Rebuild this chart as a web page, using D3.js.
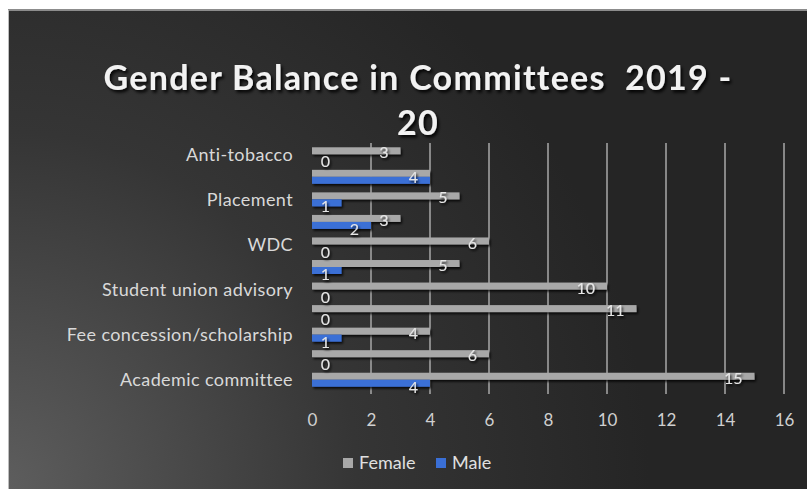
<html lang="en">
  <head>
    <script src="https://d3js.org/d3.v7.min.js"></script>
    <style>
      body { margin: 0; background: #fff; }
      text { font-family: Lato, "Open Sans", sans-serif; }
    </style>
  </head>
  <body>
    <svg id="chart" width="807" height="489"></svg>
    <script>
      // bottom to top, only every other category is labelled in the original
      const categories = ['Academic committee', '', 'Fee concession/scholarship', '', 'Student union advisory', '', 'WDC', '', 'Placement', '', 'Anti-tobacco']
      const female = [15, 6, 4, 11, 10, 5, 6, 3, 5, 4, 3]
      const male = [4, 0, 1, 0, 0, 1, 0, 2, 1, 4, 0]
      const series = ['Female', 'Male']
      const colors = { Female: '#a8a8a8', Male: '#3a6fd6' }
      const xTicks = [0, 2, 4, 6, 8, 10, 12, 14, 16]

      const svg = d3.select('#chart')
      const defs = svg.append('defs')

      const bg = defs.append('radialGradient').attr('id', 'bg')
        .attr('gradientUnits', 'userSpaceOnUse')
        .attr('cx', 0).attr('cy', 489).attr('r', 650)
      bg.append('stop').attr('offset', 0).attr('stop-color', '#5e5e5e')
      bg.append('stop').attr('offset', 0.55).attr('stop-color', '#353535')
      bg.append('stop').attr('offset', 1).attr('stop-color', '#252525')

      const shadow = defs.append('filter').attr('id', 'shadow')
        .attr('x', '-10%').attr('y', '-40%').attr('width', '130%').attr('height', '200%')
      shadow.append('feDropShadow').attr('dx', 1.5).attr('dy', 2).attr('stdDeviation', 1.2)
        .attr('flood-color', '#000').attr('flood-opacity', 0.8)

      const tshadow = defs.append('filter').attr('id', 'tshadow')
        .attr('x', '-5%').attr('y', '-20%').attr('width', '115%').attr('height', '150%')
      tshadow.append('feDropShadow').attr('dx', 2).attr('dy', 2.5).attr('stdDeviation', 1.5)
        .attr('flood-color', '#000').attr('flood-opacity', 0.9)

      // frame
      svg.append('rect').attr('x', 8).attr('y', 10).attr('width', 799).attr('height', 479)
        .attr('fill', 'url(#bg)')
      svg.append('line').attr('x1', 8).attr('x2', 807).attr('y1', 10).attr('y2', 10)
        .attr('stroke', '#8c8c8c').attr('stroke-width', 2)
      svg.append('line').attr('x1', 8.5).attr('x2', 8.5).attr('y1', 10).attr('y2', 489)
        .attr('stroke', '#bdbdbd').attr('stroke-width', 1)

      // title
      const title = svg.append('text').attr('text-anchor', 'middle')
        .attr('fill', '#f2f2f2').attr('font-weight', 'bold').attr('font-size', 34)
        .attr('letter-spacing', 1.3).style('white-space', 'pre')
        .attr('filter', 'url(#tshadow)')
      title.append('tspan').attr('x', 418).attr('y', 90).text('Gender Balance in Committees  2019 -')
      title.append('tspan').attr('x', 418).attr('y', 135).text('20')

      const x = d3.scaleLinear().domain([0, 16]).range([312, 784])
      const y = d3.scaleBand().domain(d3.range(categories.length)).range([391, 143]).paddingInner(0.38).paddingOuter(0.19)
      const ySub = d3.scaleBand().domain(series).range([0, y.bandwidth()])

      // gridlines
      svg.append('g').selectAll('line')
        .data(xTicks.filter(d => d > 0))
        .join('line')
        .attr('x1', d => x(d)).attr('x2', d => x(d))
        .attr('y1', 143).attr('y2', 394)
        .attr('stroke', '#a8a8a8').attr('stroke-width', 1.5)

      // x axis labels
      const xAxis = svg.append('g').attr('transform', 'translate(0,420)')
        .call(d3.axisBottom(x).tickValues(xTicks).tickSize(0).tickPadding(0))
      xAxis.select('.domain').remove()
      xAxis.selectAll('text').attr('fill', '#d0d0d0').attr('font-size', 17)
        .attr('font-family', 'Lato, sans-serif').attr('dy', '0.35em')

      // category labels
      svg.append('g').selectAll('text')
        .data(categories.map((c, i) => ({ c, i })).filter(d => d.c))
        .join('text')
        .attr('x', 293)
        .attr('y', d => y(d.i) + y.bandwidth() / 2)
        .attr('dy', '0.35em')
        .attr('text-anchor', 'end')
        .attr('letter-spacing', 0.4)
        .attr('fill', '#d9d9d9').attr('font-size', 18)
        .text(d => d.c)

      const rows = []
      categories.forEach((c, i) => {
        rows.push({ i, s: 'Female', v: female[i] })
        rows.push({ i, s: 'Male', v: male[i] })
      })

      // bars
      svg.append('g').attr('filter', 'url(#shadow)').selectAll('rect')
        .data(rows)
        .join('rect')
        .attr('x', x(0))
        .attr('y', d => y(d.i) + ySub(d.s))
        .attr('width', d => x(d.v) - x(0))
        .attr('height', ySub.bandwidth())
        .attr('fill', d => colors[d.s])

      // data labels; when both bars end at the same value the two labels sit on one spot
      const labels = []
      categories.forEach((c, i) => {
        if (female[i] === male[i]) {
          labels.push({ i, v: female[i], yy: y(i) + y.bandwidth() / 2 + 1 })
        } else {
          labels.push({ i, v: female[i], yy: y(i) + ySub('Female') + ySub.bandwidth() / 2 + 2 })
          labels.push({ i, v: male[i], yy: y(i) + ySub('Male') + ySub.bandwidth() / 2 + 4 })
        }
      })
      svg.append('g').attr('filter', 'url(#shadow)').selectAll('text')
        .data(labels)
        .join('text')
        .attr('x', d => Math.max(x(d.v) - 12, x(0) + 18))
        .attr('y', d => d.yy)
        .attr('dy', '0.35em')
        .attr('text-anchor', 'end')
        .attr('fill', '#e6e6e6').attr('font-size', 16)
        .text(d => d.v)

      // legend
      const legend = svg.append('g').attr('transform', 'translate(343,463)')
      const items = legend.selectAll('g').data(series).join('g')
        .attr('transform', (d, i) => `translate(${i * 93},0)`)
      items.append('rect').attr('x', 0).attr('y', -5).attr('width', 10).attr('height', 10)
        .attr('fill', d => colors[d])
      items.append('text').attr('x', 16).attr('dy', '0.35em')
        .attr('fill', '#e0e0e0').attr('font-size', 18)
        .text(d => d)
    </script>
  </body>
</html>
